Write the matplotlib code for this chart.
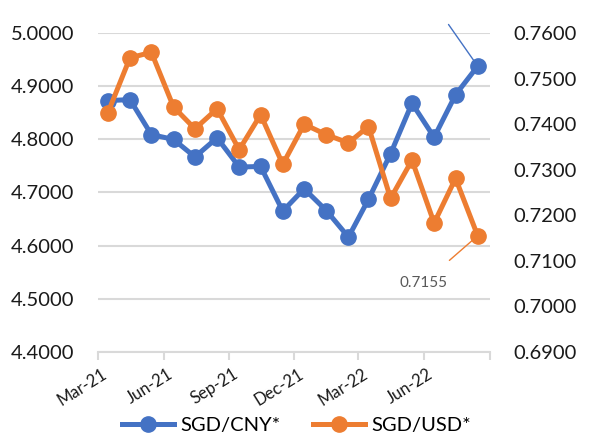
import pandas as pd
import matplotlib
matplotlib.use("Agg")
import matplotlib.pyplot as plt
import matplotlib.transforms as mtransforms
from matplotlib.lines import Line2D

plt.rcParams["font.family"] = ["Lato", "DejaVu Sans"]

# monthly observations, Mar-21 .. Aug-22
months = pd.date_range("2021-03-01", periods=18, freq="MS") + pd.Timedelta(days=14)
sgd_cny = [4.873, 4.875, 4.809, 4.800, 4.767, 4.803, 4.748, 4.749, 4.665,
           4.707, 4.666, 4.616, 4.687, 4.773, 4.868, 4.804, 4.884, 4.938]
sgd_usd = [0.7425, 0.7546, 0.7558, 0.7438, 0.7390, 0.7434, 0.7344, 0.7421, 0.7312,
           0.7400, 0.7377, 0.7359, 0.7395, 0.7237, 0.7321, 0.7183, 0.7281, 0.7155]
tick_dates = pd.date_range("2021-03-01", "2022-09-01", freq="3MS")

blue = "#4472C4"
orange = "#ED7D31"

fig = plt.figure(figsize=(5.93, 4.37), dpi=100)
ax = fig.add_axes([0.165, 0.195, 0.661, 0.729])
ax2 = ax.twinx()

ax.plot(months, sgd_cny, color=blue, lw=3.6, marker="o", ms=11, zorder=3)
ax2.plot(months, sgd_usd, color=orange, lw=3.6, marker="o", ms=11, zorder=3)

ax.set_ylim(4.4, 5.0)
ax.set_yticks([4.4 + 0.1 * i for i in range(7)])
ax.yaxis.set_major_formatter(plt.FuncFormatter(lambda v, p: f"{v:.4f}"))
ax2.set_ylim(0.69, 0.76)
ax2.set_yticks([0.69 + 0.01 * i for i in range(8)])
ax2.yaxis.set_major_formatter(plt.FuncFormatter(lambda v, p: f"{v:.4f}"))

ax.set_xlim(tick_dates[0], tick_dates[-1])
ax.set_xticks(tick_dates)
ax.set_xticklabels([d.strftime("%b-%y") for d in tick_dates[:-1]] + [""])

ax.grid(axis="y", color="#D9D9D9", lw=1.5)
ax.set_axisbelow(True)

for a in (ax, ax2):
    for s in ("top", "left", "right"):
        a.spines[s].set_visible(False)
    a.tick_params(axis="y", length=0, labelsize=14.5, labelcolor="#1a1a1a")
ax2.spines["bottom"].set_visible(False)
ax.spines["bottom"].set_color("#D9D9D9")
ax.spines["bottom"].set_linewidth(1.5)
ax.tick_params(axis="x", direction="out", length=6, width=1.5, color="#D9D9D9",
               labelsize=12, labelcolor="#1a1a1a", pad=4)
ax.tick_params(axis="y", pad=17)
ax2.tick_params(axis="y", pad=17)

offset = mtransforms.ScaledTranslation(12 / 100, 0, fig.dpi_scale_trans)
for lbl in ax.get_xticklabels():
    lbl.set_rotation(32)
    lbl.set_ha("right")
    lbl.set_transform(lbl.get_transform() + offset)

# data labels with leader lines
ax2.annotate("0.7155", xy=(months[-1], sgd_usd[-1]), xytext=(-39, -34),
             textcoords="offset points", fontsize=11, color="#595959",
             ha="center", va="center",
             arrowprops=dict(arrowstyle="-", color=orange, lw=1, shrinkA=14, shrinkB=0))
ax.annotate("", xy=(months[-1], sgd_cny[-1]), xytext=(-21, 30),
            textcoords="offset points",
            arrowprops=dict(arrowstyle="-", color=blue, lw=1, shrinkA=0, shrinkB=0),
            annotation_clip=False)

handles = [Line2D([], [], color=blue, lw=3.6, marker="o", ms=11),
           Line2D([], [], color=orange, lw=3.6, marker="o", ms=11)]
fig.legend(handles, ["SGD/CNY*", "SGD/USD*"], loc="lower center", ncol=2,
           bbox_to_anchor=(0.5, -0.035), frameon=False, fontsize=14.5,
           handlelength=2.6, columnspacing=1.6, handletextpad=0.3)

fig.savefig("out.png", dpi=100)
